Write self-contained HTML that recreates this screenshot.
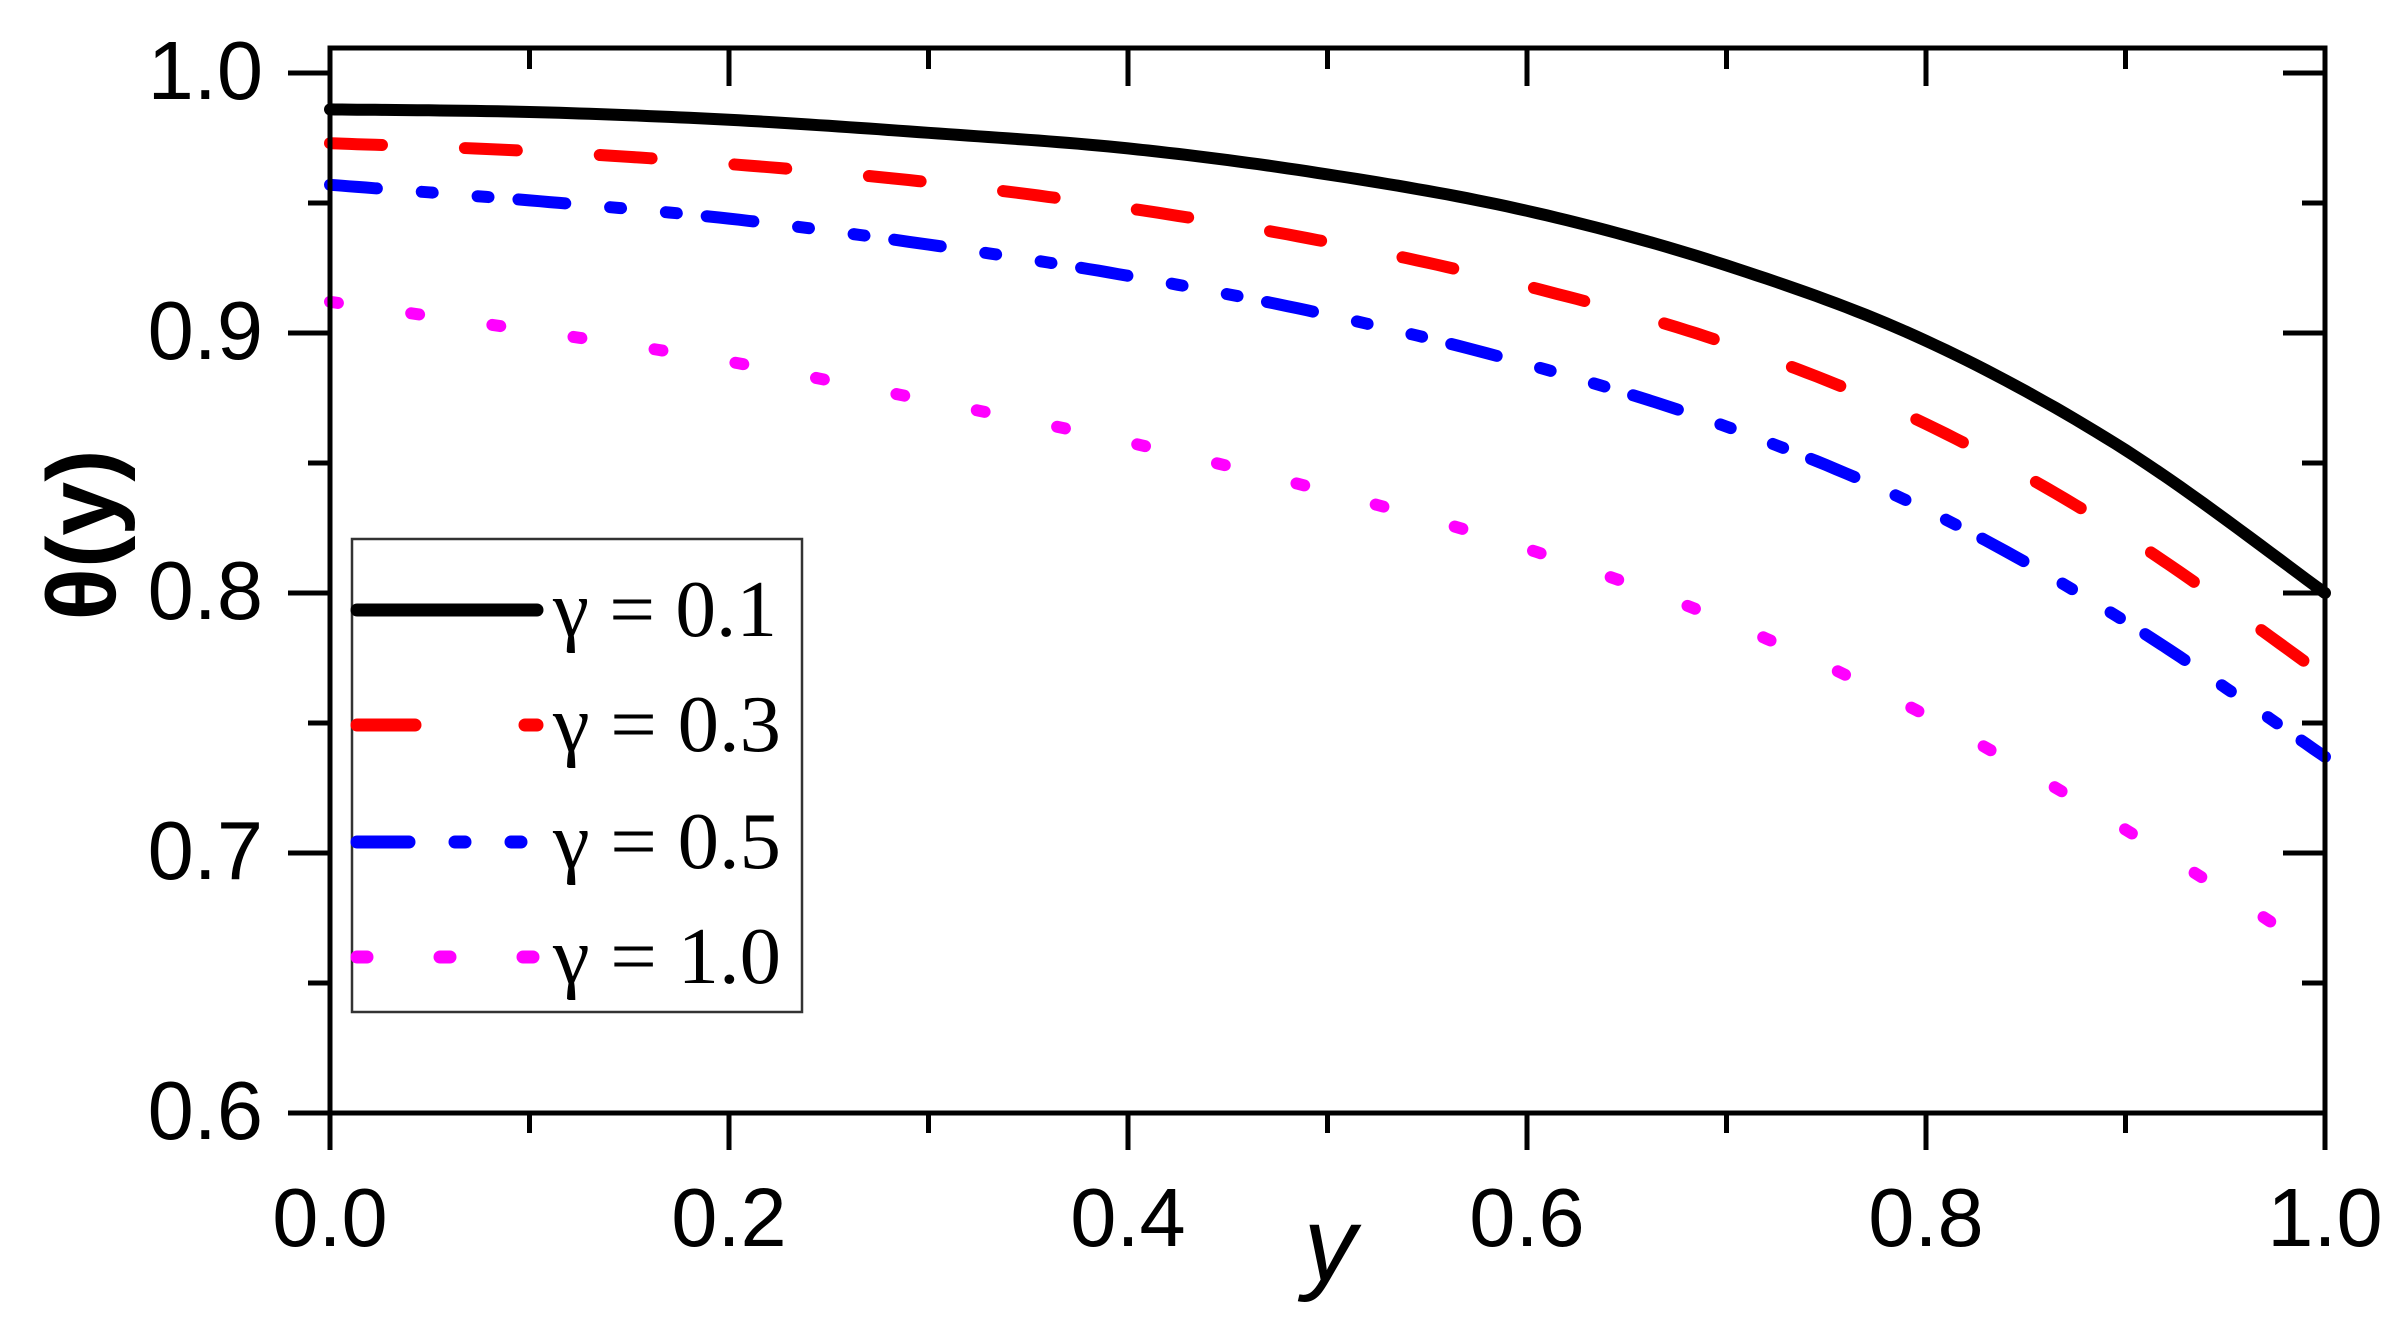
<!DOCTYPE html>
<html><head><meta charset="utf-8">
<style>html,body{margin:0;padding:0;background:#fff;}svg{display:block;}</style>
</head><body>
<svg id="s" width="2404" height="1344" viewBox="0 0 2404 1344" xmlns="http://www.w3.org/2000/svg">
<rect width="2404" height="1344" fill="#fff"/>
<g id="curves" fill="none" stroke-linecap="round" stroke-linejoin="round"></g>
<g id="ax" stroke="#000" stroke-width="5" fill="none"></g>
<rect x="330" y="48" width="1995" height="1065" fill="none" stroke="#000" stroke-width="5"/>
<g font-family="Liberation Sans, Arial, sans-serif" font-size="83" fill="#000">
<text x="263" y="99" text-anchor="end">1.0</text>
<text x="263" y="359" text-anchor="end">0.9</text>
<text x="263" y="619" text-anchor="end">0.8</text>
<text x="263" y="879" text-anchor="end">0.7</text>
<text x="263" y="1139" text-anchor="end">0.6</text>
<text x="330" y="1246" text-anchor="middle">0.0</text>
<text x="729" y="1246" text-anchor="middle">0.2</text>
<text x="1128" y="1246" text-anchor="middle">0.4</text>
<text x="1527" y="1246" text-anchor="middle">0.6</text>
<text x="1926" y="1246" text-anchor="middle">0.8</text>
<text x="2325" y="1246" text-anchor="middle">1.0</text>
<text x="1330" y="1280" text-anchor="middle" font-style="italic" font-size="105">y</text>
<text transform="translate(115,535) rotate(-90)" text-anchor="middle" font-weight="bold" font-size="97">θ(y)</text>
</g>
<rect x="352" y="539" width="450" height="473" fill="#fff" stroke="#333" stroke-width="2.5"/>
<g stroke-linecap="round" stroke-width="13" fill="none">
<line x1="357" y1="610" x2="537" y2="610" stroke="#000"/>
<line x1="357" y1="725" x2="537" y2="725" stroke="#f00" stroke-dasharray="58 110"/>
<line x1="357" y1="842" x2="537" y2="842" stroke="#00f" stroke-dasharray="52 46 10 46 10 30"/>
<line x1="357" y1="957" x2="537" y2="957" stroke="#f0f" stroke-dasharray="10 73"/>
</g>
<g font-family="Liberation Serif, 'Times New Roman', serif" font-size="80" fill="#000">
<text x="553" y="636" textLength="224" lengthAdjust="spacingAndGlyphs">γ = 0.1</text>
<text x="553" y="751" textLength="228" lengthAdjust="spacingAndGlyphs">γ = 0.3</text>
<text x="553" y="868" textLength="228" lengthAdjust="spacingAndGlyphs">γ = 0.5</text>
<text x="553" y="983" textLength="228" lengthAdjust="spacingAndGlyphs">γ = 1.0</text>
</g>
</svg>
<script>
(function(){
var X0=330,X1=2325,Y10=73,PX=2600;
function px(x){return X0+x*(X1-X0);}
function py(t){return Y10+(1-t)*PX;}
var ax=document.getElementById('ax'),ns='http://www.w3.org/2000/svg';
function ln(x1,y1,x2,y2){var l=document.createElementNS(ns,'line');l.setAttribute('x1',x1);l.setAttribute('y1',y1);l.setAttribute('x2',x2);l.setAttribute('y2',y2);ax.appendChild(l);}
for(var i=0;i<=10;i++){var x=px(i/10),maj=i%2==0;ln(x,1113,x,1113+(maj?37:20));ln(x,48,x,48+(maj?38:21));}
for(var j=0;j<=8;j++){var t=0.6+j*0.05,y=py(t),maj=j%2==0;ln(330,y,330-(maj?42:22),y);ln(2325,y,2325-(maj?42:23),y);}
function mk(a){return a.map(function(v,k){return [k/10,v];});}
var series=[
 {c:'#000',d:null,p:mk([.986,.985,.982,.977,.971,.961,.947,.926,.897,.855,.80])},
 {c:'#f00',d:'52 83',p:mk([.973,.970,.965,.958,.948,.935,.918,.896,.865,.822,.768])},
 {c:'#00f',d:'47 45 11 45 11 30',p:mk([.957,.951,.944,.934,.922,.907,.888,.864,.832,.789,.737])},
 {c:'#f0f',d:'8 74',p:mk([.912,.901,.889,.874,.858,.839,.817,.789,.753,.709,.660])}];
var g=document.getElementById('curves');
series.forEach(function(s){
 var P=s.p,pts=[];
 for(var k=0;k<P.length-1;k++){
  var p0=P[Math.max(k-1,0)],p1=P[k],p2=P[k+1],p3=P[Math.min(k+2,P.length-1)];
  for(var n=0;n<20;n++){var u=n/20;
   var f=function(a,b,c,d){return 0.5*((2*b)+(-a+c)*u+(2*a-5*b+4*c-d)*u*u+(-a+3*b-3*c+d)*u*u*u);};
   pts.push([px(f(p0[0],p1[0],p2[0],p3[0])),py(f(p0[1],p1[1],p2[1],p3[1]))]);}
 }
 pts.push([px(1),py(P[P.length-1][1])]);
 var pl=document.createElementNS(ns,'polyline');
 pl.setAttribute('points',pts.map(function(q){return q[0].toFixed(1)+','+q[1].toFixed(1);}).join(' '));
 pl.setAttribute('stroke',s.c);pl.setAttribute('stroke-width','12');
 if(s.d)pl.setAttribute('stroke-dasharray',s.d);
 g.appendChild(pl);
});
})();
</script>
</body></html>
